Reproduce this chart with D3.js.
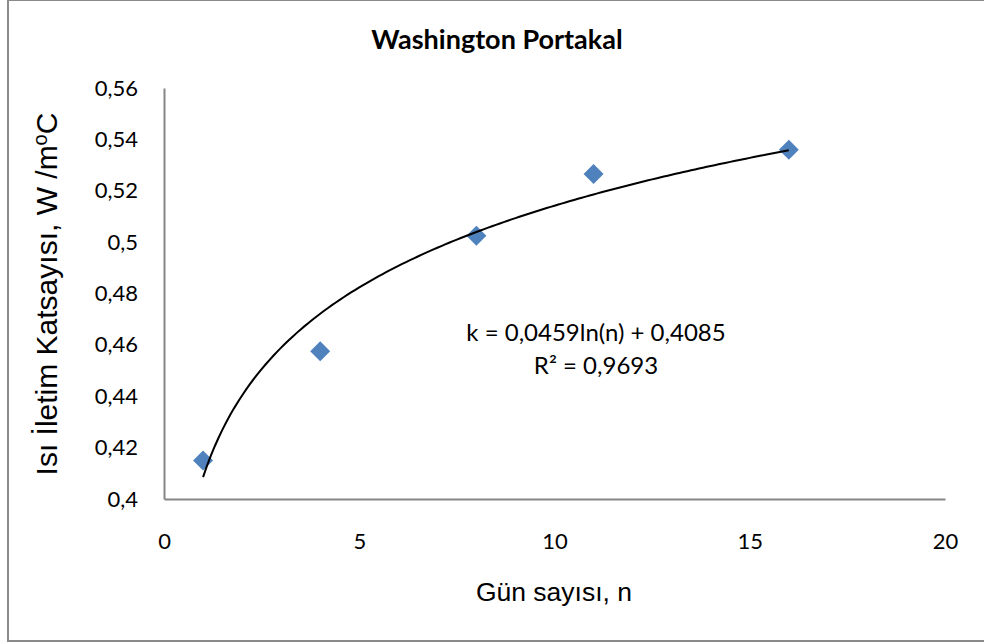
<!DOCTYPE html>
<html>
<head>
<meta charset="utf-8">
<script src="https://cdnjs.cloudflare.com/ajax/libs/d3/7.8.5/d3.min.js"></script>
<style>
  body { margin: 0; background: #fff; }
  svg { display: block; }
</style>
</head>
<body>
<svg id="chart" width="984" height="644"></svg>
<script>
// data
var days = [1, 4, 8, 11, 16];
var kValues = [0.415, 0.4575, 0.5025, 0.5265, 0.536];
var xTicks = [0, 5, 10, 15, 20];
var yTicks = [0.4, 0.42, 0.44, 0.46, 0.48, 0.5, 0.52, 0.54, 0.56];
// logarithmic trendline as printed on the chart: k = a*ln(n) + b
var trendCoef = [0.0459, 0.4085];
var trendRange = [1, 16];
var trendLabel = ["k = 0,0459ln(n) + 0,4085", "R² = 0,9693"];

var svg = d3.select("#chart");

var x = d3.scaleLinear().domain([0, 20]).range([164, 945]);
var y = d3.scaleLinear().domain([0.4, 0.56]).range([499, 88]);

var fmt = function(d) { return String(+d.toFixed(2)).replace(".", ","); };

// outer frame
svg.append("rect")
    .attr("x", 8).attr("y", 0)
    .attr("width", 990).attr("height", 641)
    .attr("fill", "#fff")
    .attr("stroke", "#8a8a8a")
    .attr("stroke-width", 2);

// title
svg.append("text")
    .attr("x", 497).attr("y", 49)
    .attr("text-anchor", "middle")
    .style("font-family", "Lato, sans-serif")
    .style("font-weight", "bold")
    .style("font-size", "27px")
    .text("Washington Portakal");

// axes
var xAxis = d3.axisBottom(x).tickValues(xTicks).tickSize(0).tickPadding(34).tickFormat(function(d) { return d; });
var yAxis = d3.axisLeft(y).tickValues(yTicks).tickSize(0).tickPadding(26).tickFormat(fmt);

var gx = svg.append("g").attr("transform", "translate(0," + y(0.4) + ")").call(xAxis);
var gy = svg.append("g").attr("transform", "translate(" + x(0) + ",0)").call(yAxis);

[gx, gy].forEach(function(g) {
    g.select(".domain").attr("stroke", "#868686").attr("stroke-width", 2);
    g.selectAll("text")
        .style("font-family", "Lato, sans-serif")
        .style("font-size", "22px")
        .attr("fill", "#000");
});

// axis titles
svg.append("text")
    .attr("x", 554).attr("y", 601)
    .attr("text-anchor", "middle")
    .style("font-family", "'Liberation Sans', Arial, sans-serif")
    .style("font-size", "26.5px")
    .text("Gün sayısı, n");

var yt = svg.append("text")
    .attr("transform", "translate(57,294) rotate(-90)")
    .attr("text-anchor", "middle")
    .style("font-family", "'Liberation Sans', Arial, sans-serif")
    .style("font-size", "30px");
yt.append("tspan").text("Isı İletim Katsayısı, W /m");
yt.append("tspan").attr("dy", -10).style("font-size", "20px").text("o");
yt.append("tspan").attr("dy", 10).text("C");

// trendline
var trendPts = d3.range(trendRange[0], trendRange[1] + 0.001, 0.1).map(function(n) {
    return [n, trendCoef[0] * Math.log(n) + trendCoef[1]];
});
var line = d3.line()
    .x(function(d) { return x(d[0]); })
    .y(function(d) { return y(d[1]); });

// points
var pts = days.map(function(d, i) { return { n: d, k: kValues[i] }; });
svg.append("g").selectAll("path")
    .data(pts)
    .enter().append("path")
    .attr("d", d3.symbol(d3.symbolSquare, 200))
    .attr("transform", function(d) { return "translate(" + x(d.n) + "," + y(d.k) + ") rotate(45)"; })
    .attr("fill", "#4f81bd");

svg.append("path")
    .datum(trendPts)
    .attr("d", line)
    .attr("fill", "none")
    .attr("stroke", "#000")
    .attr("stroke-width", 2);

// equation label
var eq = svg.append("g")
    .style("font-family", "Lato, sans-serif")
    .style("font-size", "24px")
    .attr("text-anchor", "middle");
eq.append("text").attr("x", 596).attr("y", 341).text(trendLabel[0]);
eq.append("text").attr("x", 596).attr("y", 374).text(trendLabel[1]);
</script>
</body>
</html>
